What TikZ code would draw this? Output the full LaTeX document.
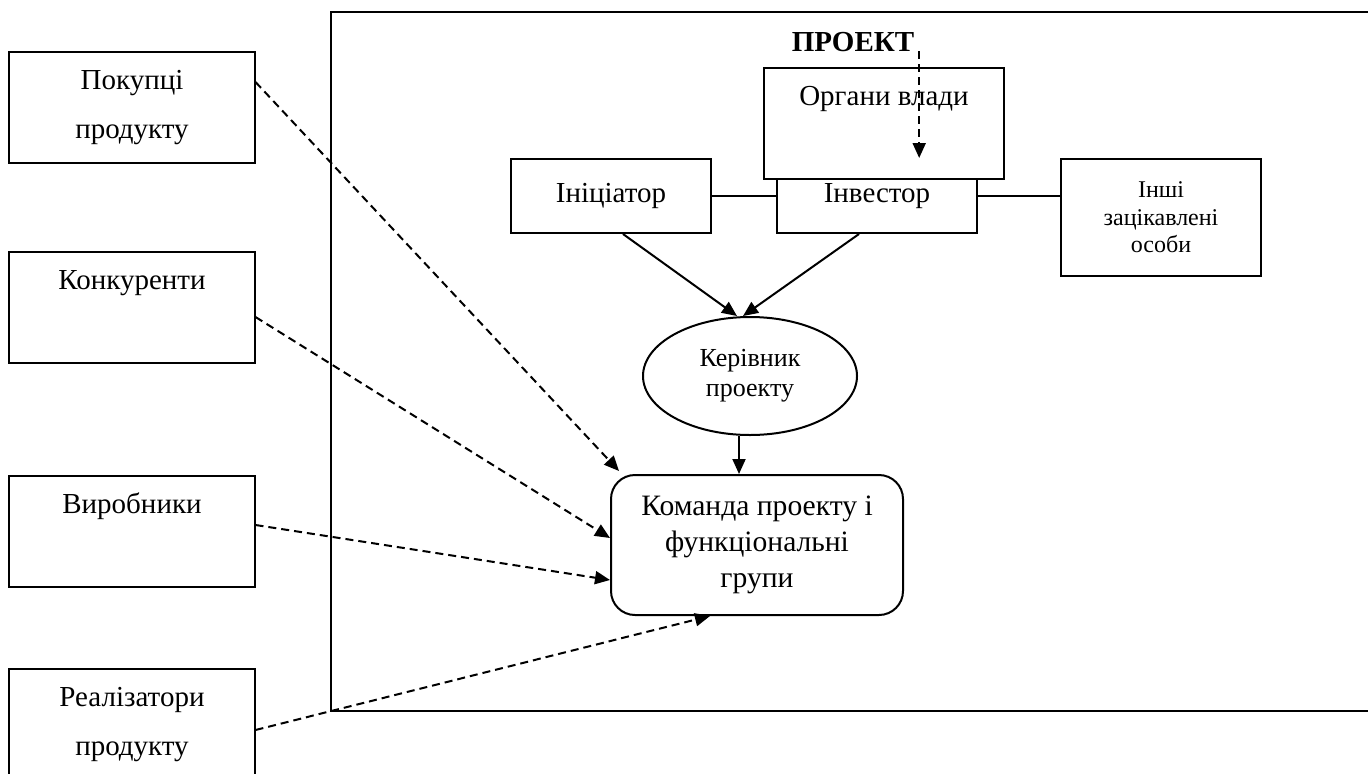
\documentclass[tikz,border=0pt]{standalone}
\usepackage{fontspec}
\setmainfont{Liberation Serif}
\usepackage{tikz}
\usetikzlibrary{arrows.meta,shapes.geometric}

\begin{document}
\begin{tikzpicture}[x=0.5bp,y=-0.5bp,
every node/.style={align=center,inner sep=0pt,line width=1bp},
sidebox/.style={draw,minimum width=122.5bp,minimum height=55.5bp,font=\fontsize{14.5bp}{24.5bp}\selectfont},
innerbox/.style={draw,fill=white,minimum width=100bp,minimum height=37bp,font=\fontsize{14.5bp}{17bp}\selectfont},
go/.style={-{Triangle[length=7.5bp,width=6.5bp]},line width=1bp},
dgo/.style={go,dash pattern=on 4bp off 2.5bp}]
\useasboundingbox (0,0) rectangle (1368,773);
\clip (0,0) rectangle (1368,773);
\draw[line width=1bp] (1400,12) -| (331,711) -- (1400,711);
\node[sidebox] (pok) at (132,107.5) {Покупці\\продукту};
\node[sidebox] (konk) at (132,307.5) {Конкуренти\\\rule[-3bp]{0pt}{10bp}};
\node[sidebox] (vyr) at (132,531) {Виробники\\\rule[-3bp]{0pt}{10bp}};
\node[sidebox] (real) at (132,724.5) {Реалізатори\\продукту};
\node[font=\fontsize{14.5bp}{17bp}\selectfont\bfseries,inner sep=2bp] (proj) at (853,42) {ПРОЕКТ};
\node[innerbox] (init) at (611,196) {Ініціатор};
\node[innerbox] (inv) at (877,196) {Інвестор};
\node[sidebox,fill=white,minimum width=120bp] (vlada) at (884,123.5) {Органи влади\\\rule[-3bp]{0pt}{10bp}};
\node[draw,minimum width=100bp,minimum height=58.5bp,font=\fontsize{12bp}{13.75bp}\selectfont] (inshi) at (1161,217.5) {Інші\\зацікавлені\\особи};
\node[draw,ellipse,minimum width=107bp,minimum height=59bp,font=\fontsize{13bp}{15bp}\selectfont] (ker) at (750,376) {Керівник\\проекту};
\node[draw,rounded corners=12bp,minimum width=146bp,minimum height=70bp,font=\fontsize{14.8bp}{18bp}\selectfont] (team) at (757,545) {Команда проекту і\\функціональні\\групи};
\coordinate (vl) at (917,158);
\draw[dgo] (proj.base east) -- (proj.base east |- vl);
\draw[line width=1bp] (init) -- (inv);
\draw[line width=1bp] (inv.east) -- (inv.east -| inshi.west);
\draw[go] ([xshift=6bp]init.south) -- ([xshift=-6.5bp]ker.north);
\draw[go] ([xshift=-9bp]inv.south) -- ([xshift=-3.5bp]ker.north);
\draw[go] ([xshift=-5.5bp]ker.south) -- ([xshift=-5.5bp]ker.south |- team.north);
\draw[dgo] ([yshift=12.75bp]pok.east) -- ([xshift=4.5bp,yshift=1.5bp]team.north west);
\draw[dgo] ([yshift=-4.75bp]konk.east) -- ([yshift=3.5bp]team.west);
\draw[dgo] ([yshift=3bp]vyr.east) -- ([yshift=-17.5bp]team.west);
\draw[dgo] ([yshift=-2.75bp]real.east) -- ([xshift=-23.5bp]team.south);
\end{tikzpicture}
\end{document}
